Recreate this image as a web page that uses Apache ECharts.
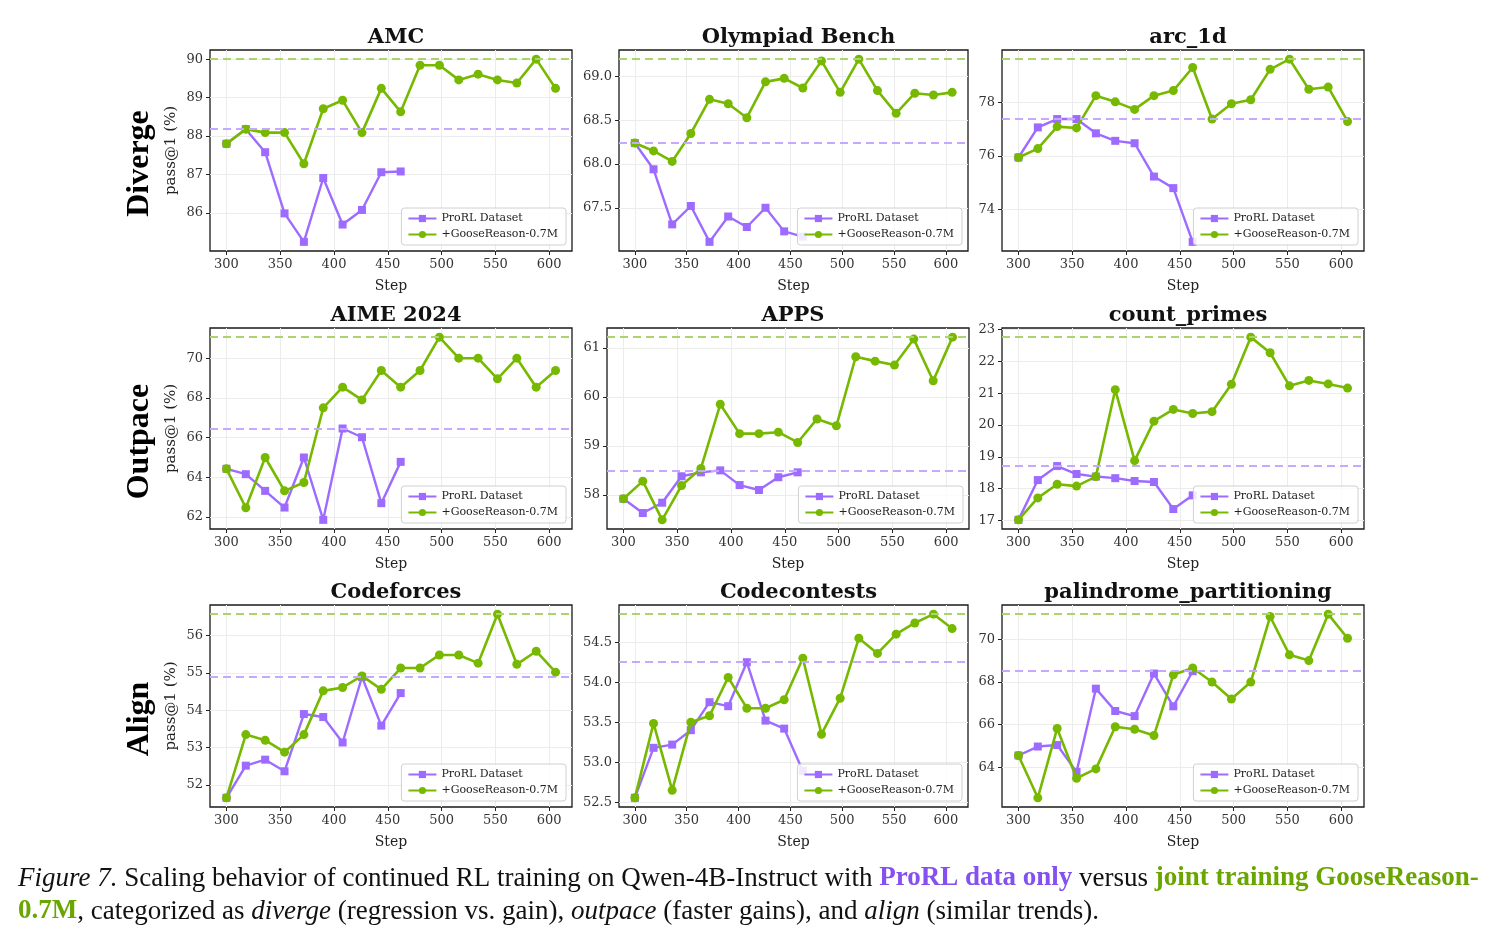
<!DOCTYPE html>
<html><head><meta charset="utf-8">
<script src="https://cdn.jsdelivr.net/npm/echarts@6/dist/echarts.min.js"></script>
<style>html,body{margin:0;padding:0;background:#fff}#c{width:1495px;height:940px}</style>
</head><body><div id="c"></div>
<script>
// ---------------- DATA ----------------
const steps = [300,318,336,354,372,390,408,426,444,462,480,498,516,534,552,570,588,606];
const xTicks = [300,350,400,450,500,550,600];
const seriesNames = ['ProRL Dataset', '+GooseReason-0.7M'];
const rowLabels = ['Diverge', 'Outpace', 'Align'];
const titles = ['AMC','Olympiad Bench','arc_1d','AIME 2024','APPS','count_primes','Codeforces','Codecontests','palindrome_partitioning'];

const amcProRL  = [87.80,88.18,87.58,85.99,85.25,86.91,85.70,86.08,87.06,87.08];
const amcGoose  = [87.80,88.18,88.09,88.09,87.28,88.71,88.93,88.09,89.24,88.63,89.84,89.84,89.46,89.61,89.46,89.38,90.00,89.24];
const amcTicks  = [86,87,88,89,90];

const olyProRL  = [68.24,67.94,67.31,67.52,67.11,67.40,67.28,67.50,67.23,67.17];
const olyGoose  = [68.24,68.15,68.03,68.35,68.74,68.69,68.53,68.94,68.98,68.87,69.18,68.82,69.20,68.84,68.58,68.81,68.79,68.82];
const olyTicks  = [67.5,68.0,68.5,69.0];

const arcProRL  = [75.94,77.06,77.37,77.37,76.84,76.56,76.47,75.23,74.80,72.80];
const arcGoose  = [75.94,76.27,77.09,77.04,78.24,78.01,77.73,78.24,78.43,79.29,77.37,77.94,78.09,79.22,79.60,78.48,78.56,77.28];
const arcTicks  = [74,76,78];

const aimeProRL = [64.43,64.16,63.32,62.48,65.00,61.86,66.46,66.02,62.70,64.78];
const aimeGoose = [64.43,62.47,65.00,63.32,63.74,67.50,68.54,67.90,69.38,68.54,69.38,71.06,70.00,70.00,68.96,70.00,68.54,69.38];
const aimeTicks = [62,64,66,68,70];

const appsProRL = [57.92,57.63,57.84,58.38,58.46,58.50,58.20,58.10,58.36,58.46];
const appsGoose = [57.92,58.28,57.49,58.19,58.54,59.85,59.25,59.25,59.28,59.07,59.55,59.41,60.82,60.73,60.65,61.18,60.33,61.22];
const appsTicks = [58,59,60,61];

const cpProRL   = [17.02,18.27,18.71,18.46,18.38,18.33,18.24,18.21,17.36,17.79];
const cpGoose   = [17.02,17.71,18.14,18.08,18.38,21.11,18.88,20.12,20.49,20.36,20.42,21.28,22.76,22.27,21.23,21.40,21.29,21.16];
const cpTicks   = [17,18,19,20,21,22,23];

const cfProRL   = [51.66,52.52,52.68,52.37,53.90,53.82,53.14,54.89,53.59,54.46];
const cfGoose   = [51.66,53.35,53.20,52.88,53.35,54.52,54.61,54.92,54.56,55.13,55.13,55.48,55.48,55.26,56.57,55.23,55.58,55.02];
const cfTicks   = [52,53,54,55,56];

const ccProRL   = [52.555,53.18,53.22,53.40,53.75,53.70,54.25,53.52,53.42,52.89];
const ccGoose   = [52.555,53.485,52.65,53.50,53.58,54.06,53.675,53.675,53.78,54.30,53.35,53.80,54.55,54.36,54.60,54.74,54.85,54.67];
const ccTicks   = [52.5,53.0,53.5,54.0,54.5];

const palProRL  = [64.55,64.97,65.04,63.78,67.69,66.64,66.40,68.40,66.86,68.51];
const palGoose  = [64.55,62.56,65.82,63.48,63.92,65.90,65.78,65.49,68.34,68.66,68.00,67.20,68.00,71.08,69.28,69.01,71.19,70.06];
const palTicks  = [64,66,68,70];

// ---------------- LAYOUT / STYLE ----------------
const W = 1495, H = 940;
const PURPLE = '#9d6bff', GREEN = '#76b900';
const PURPLE_H = '#c6a8ff', GREEN_H = '#acd46e';
const SERIF = 'DejaVu Serif';

const panelData = [
  [amcProRL, amcGoose, amcTicks, 0],
  [olyProRL, olyGoose, olyTicks, 1],
  [arcProRL, arcGoose, arcTicks, 0],
  [aimeProRL, aimeGoose, aimeTicks, 0],
  [appsProRL, appsGoose, appsTicks, 0],
  [cpProRL, cpGoose, cpTicks, 0],
  [cfProRL, cfGoose, cfTicks, 0],
  [ccProRL, ccGoose, ccTicks, 1],
  [palProRL, palGoose, palTicks, 0]
];
const rowTop = [50, 328, 605];
const rowH = [201, 201, 202];
const colBox = [
  [[210,362],[619,349],[1002,362]],
  [[210,362],[607,362],[1002,362]],
  [[210,362],[619,349],[1002,362]]
];

const grids = [], xAxes = [], yAxes = [], series = [], titleArr = [], legends = [];
panelData.forEach((p, i) => {
  const r = Math.floor(i / 3), c = i % 3;
  const [left, width] = colBox[r][c];
  const top = rowTop[r], height = rowH[r];
  const [pro, goose, ticks, dec] = p;
  const all = pro.concat(goose);
  const lo = Math.min(...all), hi = Math.max(...all);
  const pad = (hi - lo) * 0.05;
  const xlo = steps[0], xhi = steps[steps.length - 1];
  const xpad = (xhi - xlo) * 0.05;

  grids.push({left, top, width, height, show: true, borderColor: '#1a1a1a', borderWidth: 1.3, backgroundColor: 'transparent', containLabel: false});
  xAxes.push({
    type: 'value', gridIndex: i, min: xlo - xpad, max: xhi + xpad,
    name: 'Step', nameLocation: 'middle', nameGap: 28,
    nameTextStyle: {fontFamily: SERIF, fontSize: 14, color: '#222'},
    axisLine: {show: false},
    axisTick: {show: true, length: 4, inside: false, customValues: xTicks, lineStyle: {color: '#222', width: 1}},
    axisLabel: {customValues: xTicks, fontFamily: SERIF, fontSize: 13, color: '#333', margin: 7},
    splitLine: {show: true, lineStyle: {color: '#ececec', width: 1}}
  });
  yAxes.push({
    type: 'value', gridIndex: i, min: lo - pad, max: hi + pad,
    name: c === 0 ? 'pass@1 (%)' : '', nameLocation: 'middle', nameGap: 31,
    nameTextStyle: {fontFamily: SERIF, fontSize: 15, color: '#222'},
    axisLine: {show: false},
    axisTick: {show: true, length: 4, inside: false, customValues: ticks, lineStyle: {color: '#222', width: 1}},
    axisLabel: {customValues: ticks, fontFamily: SERIF, fontSize: 13, color: '#333', margin: 7,
      formatter: v => Number(v).toFixed(dec)},
    splitLine: {show: true, lineStyle: {color: '#ececec', width: 1}}
  });
  const mk = (arr, hcolor) => ({
    silent: true, symbol: 'none', animation: false,
    label: {show: false},
    lineStyle: {type: [8, 5], width: 2, color: hcolor},
    data: [{yAxis: Math.max(...arr)}]
  });
  series.push({
    name: seriesNames[0], type: 'line', xAxisIndex: i, yAxisIndex: i,
    data: pro.map((v, j) => [steps[j], v]),
    symbol: 'rect', symbolSize: 8, showAllSymbol: true,
    lineStyle: {color: PURPLE, width: 2.4}, itemStyle: {color: PURPLE},
    markLine: mk(pro, PURPLE_H), z: 3
  });
  series.push({
    name: seriesNames[1], type: 'line', xAxisIndex: i, yAxisIndex: i,
    data: goose.map((v, j) => [steps[j], v]),
    symbol: 'circle', symbolSize: 9, showAllSymbol: true,
    lineStyle: {color: GREEN, width: 2.6}, itemStyle: {color: GREEN},
    markLine: mk(goose, GREEN_H), z: 4
  });
  titleArr.push({
    text: titles[i], left: left + width / 2, top: top - 28, textAlign: 'center',
    textStyle: {fontFamily: SERIF, fontWeight: 'bold', fontSize: 21, color: '#111'}
  });
  legends.push({
    data: seriesNames, orient: 'vertical',
    right: W - (left + width) + 6, bottom: H - (top + height) + 6,
    itemWidth: 28, itemHeight: 9, itemGap: 5,
    padding: [5, 8, 5, 6],
    backgroundColor: 'rgba(255,255,255,0.85)', borderColor: '#d0d0d0', borderWidth: 1, borderRadius: 3,
    textStyle: {fontFamily: SERIF, fontSize: 11, color: '#222'},
    selectedMode: false, z: 10
  });
});

const graphics = [];
rowLabels.forEach((t, r) => {
  graphics.push({
    type: 'text', x: 140, y: rowTop[r] + rowH[r] / 2 + 13, rotation: Math.PI / 2,
    style: {text: t, fontFamily: 'Liberation Serif', fontWeight: 'bold', fontSize: 32, fill: '#000',
      align: 'center', verticalAlign: 'middle'}
  });
});
const capBase = {fontFamily: 'Liberation Serif', fontSize: 27, fill: '#111'};
const rich = {
  it: Object.assign({}, capBase, {fontStyle: 'italic'}),
  p: Object.assign({}, capBase, {fontWeight: 'bold', fill: '#8450f0'}),
  g: Object.assign({}, capBase, {fontWeight: 'bold', fill: '#6aa600'}),
  n: Object.assign({}, capBase)
};
graphics.push({
  type: 'text', left: 18, top: 865,
  style: Object.assign({}, capBase, {
    text: '{it|Figure 7.}{n| Scaling behavior of continued RL training on Qwen-4B-Instruct with }{p|ProRL data only}{n| versus }{g|joint training GooseReason-}',
    rich})
});
graphics.push({
  type: 'text', left: 18, top: 898,
  style: Object.assign({}, capBase, {
    text: '{g|0.7M}{n|, categorized as }{it|diverge}{n| (regression vs. gain), }{it|outpace}{n| (faster gains), and }{it|align}{n| (similar trends).}',
    rich})
});

const chart = echarts.init(document.getElementById('c'), null, {renderer: 'canvas', width: W, height: H});
chart.setOption({
  animation: false,
  backgroundColor: '#fff',
  title: titleArr,
  legend: legends,
  grid: grids,
  xAxis: xAxes,
  yAxis: yAxes,
  series,
  graphic: graphics
});
</script></body></html>
